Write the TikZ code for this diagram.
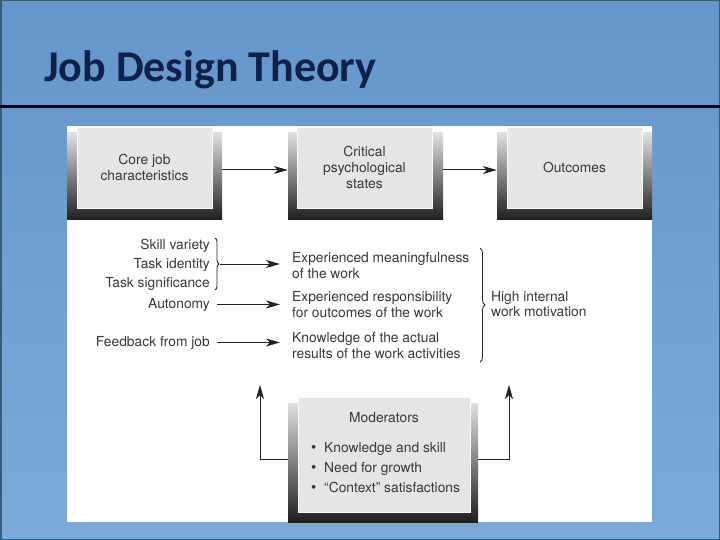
\documentclass[tikz,border=0pt]{standalone}
\usepackage{fontspec}
\setmainfont{TeX Gyre Heros}
\newfontfamily\titlefont{Carlito}
\usetikzlibrary{arrows.meta,decorations.pathreplacing,calc}
\definecolor{bgtop}{HTML}{6596CA}
\definecolor{bgbot}{HTML}{7AAAD9}
\definecolor{slideborder}{HTML}{3A5A7C}
\definecolor{titleblue}{HTML}{0E2249}
\definecolor{facegray}{HTML}{E5E5E5}
\definecolor{linegray}{HTML}{222222}
\definecolor{txt}{HTML}{383838}
\newcommand{\smallbul}{\makebox[13pt][l]{{\fontsize{15}{15}\selectfont\textbullet}}}
\begin{document}
\begin{tikzpicture}[x=1pt,y=-1pt,
  frame/.style={inner sep=0pt, top color=black!12, bottom color=black!88},
  face/.style={fill=facegray, draw=white!80!facegray, line width=0.6pt, inner sep=0pt, align=center,
    font=\fontsize{13.8}{16}\selectfont, text=txt},
  lbl/.style={inner sep=0pt, font=\fontsize{13.8}{16}\selectfont, text=txt},
  arr/.style={draw=linegray, line width=1pt, -{Stealth[length=14pt,width=8pt,inset=4pt]}},
  brc/.style={draw=linegray, line width=0.8pt, decorate},
]
% background
\fill[top color=bgtop, bottom color=bgbot] (0,0) rectangle (720,540);
\useasboundingbox (0,0) rectangle (720,540);
\draw[slideborder, line width=1.5pt] (0.75,0.75) rectangle (719.25,539.25);
\draw[black, line width=3pt] (0,107) -- (720,107);
\node[anchor=base west, inner sep=0pt, font=\titlefont\bfseries\fontsize{44}{50}\selectfont, text=titleblue] (title) at (44,82) {Job Design Theory};
% white panel
\fill[white] (67,126) rectangle (652,522);
% top boxes
\node[frame, minimum width=155pt, minimum height=87pt] (f1) at (144.5,176.5) {};
\node[face, minimum width=135pt, minimum height=81pt] (c1) at (144.5,167.5) {Core job\\characteristics};
\node[frame, minimum width=155pt, minimum height=87pt] (f2) at (365.5,176.5) {};
\node[face, minimum width=135pt, minimum height=81pt] (c2) at (364.5,167.5) {Critical\\psychological\\states};
\node[frame, minimum width=155pt, minimum height=87pt] (f3) at (574.5,176.5) {};
\node[face, minimum width=135pt, minimum height=81pt] (c3) at (574.5,167.5) {Outcomes};
\coordinate (r1) at (0,170);
\draw[arr] (f1.east |- r1) -- (f2.west |- r1);
\draw[arr] (f2.east |- r1) -- (f3.west |- r1);
% left labels
\node[lbl, anchor=base east] (sv) at (210,249) {Skill variety};
\node[lbl, anchor=base east] (ti) at (210,268) {Task identity};
\node[lbl, anchor=base east] (ts) at (210,287) {Task significance};
\node[lbl, anchor=base east] (au) at (210,308) {Autonomy};
\node[lbl, anchor=base east] (fb) at (210,346) {Feedback from job};
\draw[brc, decoration={brace, amplitude=4pt}] (215,238) -- (215,290);
\coordinate (b1) at (219.5,264);
% right labels
\node[lbl, anchor=base west] (em1) at (292,262) {Experienced meaningfulness};
\node[lbl, anchor=base west] (em2) at (292,278) {of the work};
\node[lbl, anchor=base west] (er1) at (292,301) {Experienced responsibility};
\node[lbl, anchor=base west] (er2) at (292,317) {for outcomes of the work};
\node[lbl, anchor=base west] (kn1) at (292,342) {Knowledge of the actual};
\node[lbl, anchor=base west] (kn2) at (292,358) {results of the work activities};
\draw[brc, decoration={brace, amplitude=5pt}] (480,248) -- (480,362);
\node[lbl, anchor=base west] (hi1) at (491,301) {High internal};
\node[lbl, anchor=base west] (hi2) at (491,316) {work motivation};
% middle arrows
\draw[arr, shorten >=12pt] (b1) -- (b1 -| em1.west);
\draw[arr, shorten <=7pt, shorten >=12pt] (au.east) -- (au.east -| er1.west);
\draw[arr, shorten <=7pt, shorten >=12pt] (fb.east) -- (fb.east -| kn1.west);
% moderators
\node[frame, minimum width=190pt, minimum height=119pt] (mf) at (383,462.5) {};
\node[face, minimum width=172pt, minimum height=115pt] (mc) at (384,454.5) {};
\node[lbl, anchor=base] (mt) at (384,422) {Moderators};
\node[lbl, anchor=base west] (m1) at (311,452) {\smallbul Knowledge and skill};
\node[lbl, anchor=base west] (m2) at (311,472) {\smallbul Need for growth};
\node[lbl, anchor=base west] (m3) at (311,492) {\smallbul “Context” satisfactions};
\coordinate (ml) at (260,459);
\coordinate (mlt) at (260,385);
\coordinate (mr) at (509,459);
\coordinate (mrt) at (509,385);
\draw[arr] (mf.west |- ml) -- (ml) -- (mlt);
\draw[arr] (mf.east |- mr) -- (mr) -- (mrt);
\end{tikzpicture}
\end{document}
